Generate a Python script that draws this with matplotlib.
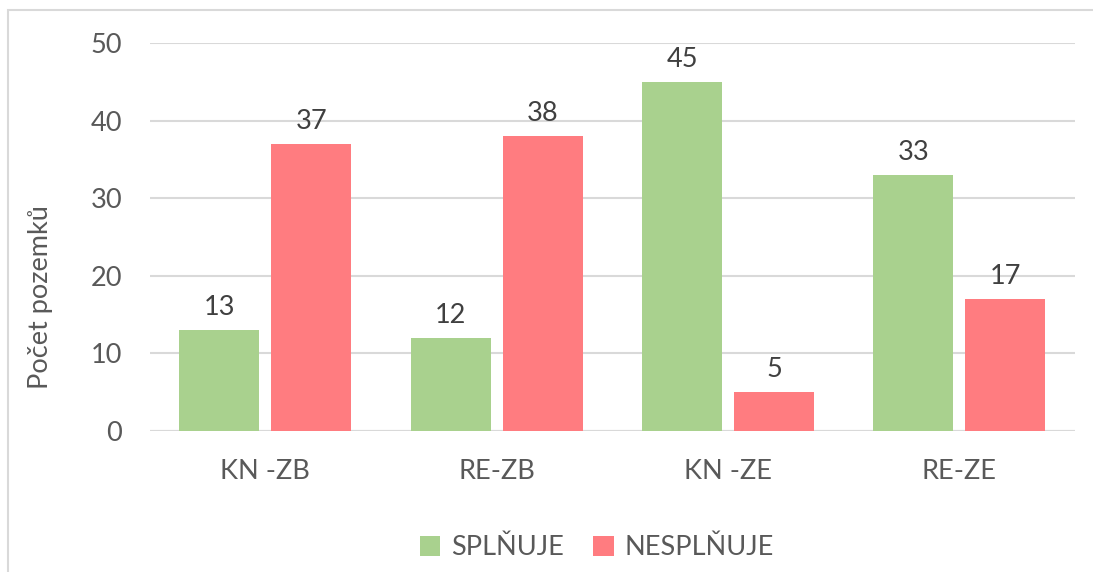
import numpy as np
from matplotlib import pyplot as plt
from matplotlib.patches import Rectangle

categories = ["KN -ZB", "RE-ZB", "KN -ZE", "RE-ZE"]
splnuje = [13, 12, 45, 33]
nesplnuje = [37, 38, 5, 17]
series_names = ["SPLŇUJE", "NESPLŇUJE"]

green = "#A9D18E"
red = "#FF7C80"
txt = "#595959"

plt.rcParams['font.family'] = ['Lato', 'DejaVu Sans']
fs = 19.5

fig = plt.figure(figsize=(10.93, 5.72), dpi=100)
ax = fig.add_axes([0.137, 0.2465, 0.8465, 0.6783])

x = np.arange(len(categories))
w = 0.346
off = w / 2 + 0.026
b1 = ax.bar(x - off, splnuje, w, color=green, label=series_names[0], zorder=3)
b2 = ax.bar(x + off, nesplnuje, w, color=red, label=series_names[1], zorder=3)

for bars in (b1, b2):
    for r in bars:
        ax.annotate(f"{int(r.get_height())}",
                    (r.get_x() + r.get_width() / 2, r.get_height()),
                    xytext=(0, 7), textcoords="offset points",
                    ha="center", va="bottom", fontsize=fs, color="#404040")

ax.set_ylim(0, 50)
ax.set_xlim(-0.5, 3.5)
ax.set_yticks(range(0, 51, 10))
ax.set_xticks(x)
ax.set_xticklabels(categories)
ax.yaxis.grid(True, color="#D9D9D9", linewidth=1.5, zorder=0)
for s in ax.spines.values():
    s.set_visible(False)
ax.axhline(0, color="#D9D9D9", linewidth=1.5, zorder=2)
ax.tick_params(axis='both', length=0, labelsize=fs, colors=txt)
ax.tick_params(axis='x', pad=20)
ax.tick_params(axis='y', pad=20)
ax.set_ylabel("Počet pozemků", fontsize=fs, color=txt)
ax.yaxis.set_label_coords(-0.105, 0.345)

leg = fig.legend(loc="center", bbox_to_anchor=(0.546, 0.042), ncol=2,
                 frameon=False, fontsize=fs, handlelength=0.75, handleheight=0.75,
                 handletextpad=0.4, columnspacing=1.1)
for t in leg.get_texts():
    t.set_color(txt)

# chart border
fig.patches.append(Rectangle((8 / 1093, -0.01), 1.1, 1 - 10 / 572 + 0.01,
                             transform=fig.transFigure, fill=False,
                             edgecolor="#D9D9D9", linewidth=1.5))

fig.savefig("out.png", dpi=100)
